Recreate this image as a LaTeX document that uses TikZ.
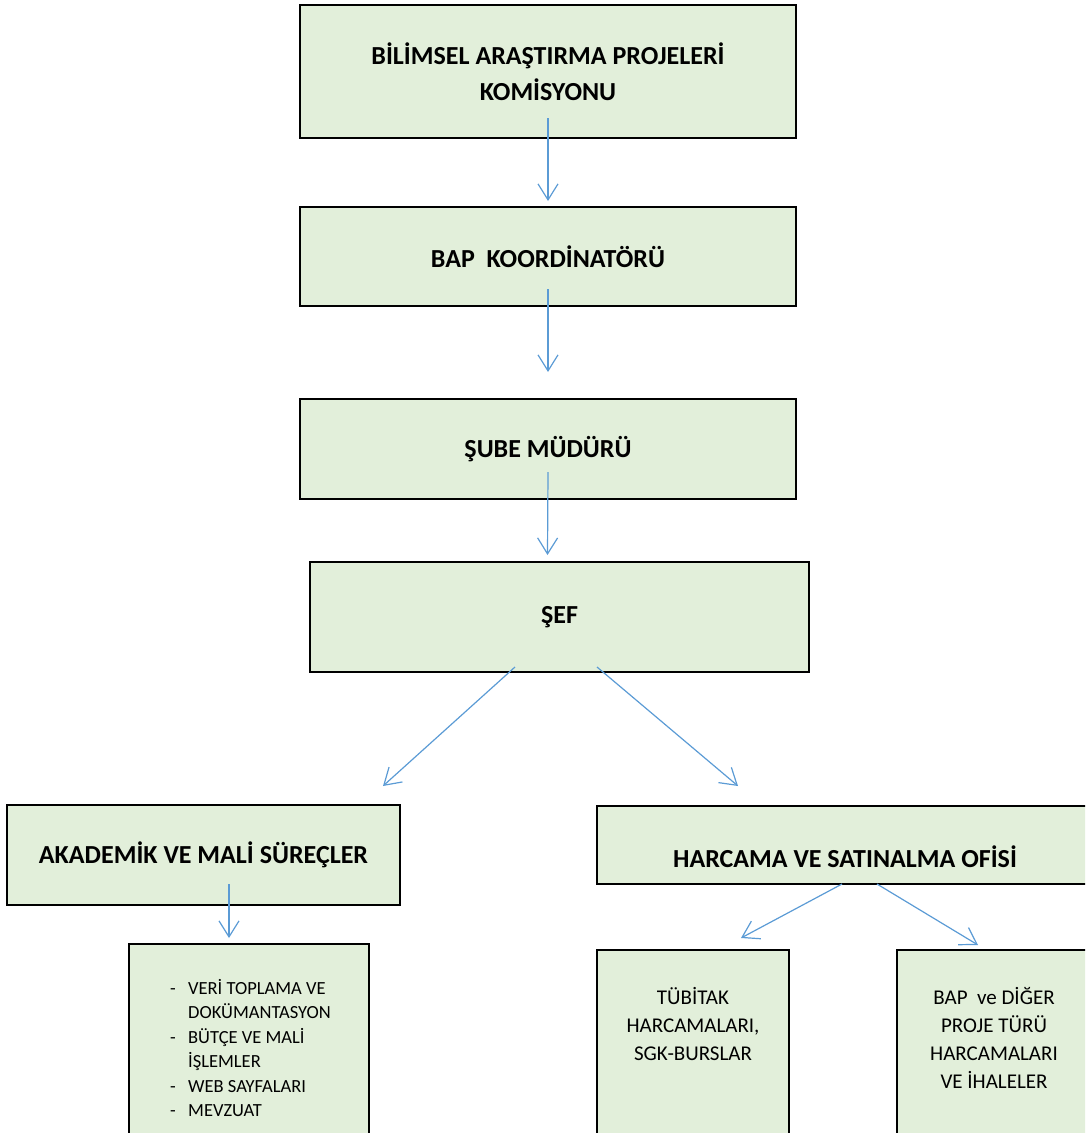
\documentclass[tikz,border=0pt]{standalone}
\usepackage{fontspec}
\setmainfont{Carlito}
\usepackage{xcolor}
\usetikzlibrary{arrows.meta}
\definecolor{boxgreen}{HTML}{E2EFDA}
\definecolor{arrowblue}{HTML}{5B9BD5}
\tikzset{
    box/.style={draw=black, fill=boxgreen, line width=2pt, inner sep=0pt, align=center,
        font=\fontsize{26}{28}\selectfont\bfseries},
    boxtext/.style={inner sep=0pt, align=center, font=\fontsize{21}{28}\selectfont},
    arr/.style={draw=arrowblue, line width=1.2pt, -{Straight Barb[length=16pt,width=20pt]}},
}

\begin{document}
\begin{tikzpicture}[x=1pt,y=-1pt]
                \useasboundingbox (0,0) rectangle (1085,1133);
                \clip (0,0) rectangle (1085,1133);
                % chain at the top
                \node[box, minimum width=496pt, minimum height=133pt, font=\fontsize{26}{36}\selectfont\bfseries] (komisyon) at (548,71.5) {BİLİMSEL ARAŞTIRMA PROJELERİ\\KOMİSYONU};
                \node[box, minimum width=496pt, minimum height=99pt] (koord) at (548,256.5) {BAP\ \ KOORDİNATÖRÜ};
                \node[box, minimum width=496pt, minimum height=100pt] (sube) at (548,449) {ŞUBE MÜDÜRÜ};
                \node[box, minimum width=499pt, minimum height=110pt] (sef) at (559.5,617) {ŞEF};
                % two offices
                \node[box, minimum width=393pt, minimum height=100pt] (akademik) at (203.5,855) {AKADEMİK VE MALİ SÜREÇLER};
                \node[box, minimum width=496pt, minimum height=78pt] (harcama) at (845,845) {};
                \node[box, draw=none, fill=none] (harcamatext) at (845,857) {HARCAMA VE SATINALMA OFİSİ};
                % bottom boxes
                \node[box, minimum width=240pt, minimum height=200pt] (gorevler) at (249,1044) {};
                \node[box, minimum width=192pt, minimum height=200pt] (tubitak) at (693,1050) {};
                \node[box, minimum width=194pt, minimum height=200pt] (bapdiger) at (994,1050) {};
                \node[boxtext, anchor=north west, align=left, font=\fontsize{18.5}{24.5}\selectfont] (liste) at (170,977)
                    {\begin{tabular}{@{}p{18pt}@{}l@{}}
                    - & VERİ TOPLAMA VE\\
                      & DOKÜMANTASYON\\
                    - & BÜTÇE VE MALİ\\
                      & İŞLEMLER\\
                    - & WEB SAYFALARI\\
                    - & MEVZUAT
                    \end{tabular}};
                \node[boxtext] (tubitaktext) at (693,1024) {TÜBİTAK\\HARCAMALARI,\\SGK-BURSLAR};
                \node[boxtext] (bapdigertext) at (994,1038) {BAP\ \ ve DİĞER\\PROJE TÜRÜ\\HARCAMALARI\\VE İHALELER};
                % arrows
                \draw[arr] ([yshift=21pt]komisyon.south) -- ([yshift=5pt]koord.north);
                \draw[arr] ([yshift=18pt]koord.south) -- ([yshift=26pt]sube.north);
                \draw[arr] ([yshift=28pt]sube.south) -- ([xshift=-12pt,yshift=6pt]sef.north);
                \draw[arr] ([xshift=-44.5pt,yshift=6pt]sef.south) -- ([xshift=-18pt,yshift=18pt]akademik.north east);
                \draw[arr] ([xshift=37.5pt,yshift=6pt]sef.south) -- ([xshift=142pt,yshift=19pt]harcama.north west);
                \draw[arr] ([xshift=25.5pt,yshift=22pt]akademik.south) -- ([xshift=-20pt,yshift=5pt]gorevler.north);
                \draw[arr] ([xshift=-3pt,yshift=1pt]harcama.south) -- ([xshift=48pt,yshift=11pt]tubitak.north);
                \draw[arr] ([xshift=32pt,yshift=1pt]harcama.south) -- ([xshift=-16pt,yshift=4pt]bapdiger.north);
            \end{tikzpicture}
\end{document}
